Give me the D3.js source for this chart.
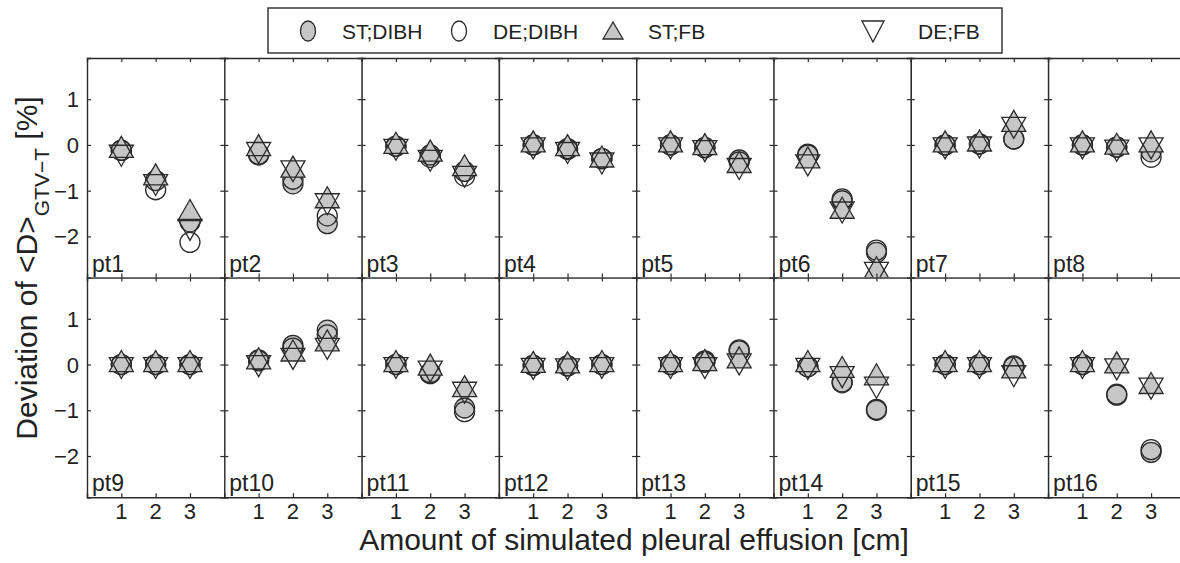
<!DOCTYPE html>
<html>
<head>
<meta charset="utf-8">
<script src="https://cdn.jsdelivr.net/npm/d3@7/dist/d3.min.js"></script>
<style>
  body { margin: 0; background: #fff; }
  text { font-family: "Liberation Sans", Arial, sans-serif; fill: #222; }
</style>
</head>
<body>
<div id="chart"></div>
<script>
//Data
var patients = ["pt1","pt2","pt3","pt4","pt5","pt6","pt7","pt8",
                "pt9","pt10","pt11","pt12","pt13","pt14","pt15","pt16"];
var effusion = [1, 2, 3];
var yTicks = [-2, -1, 0, 1];
var seriesNames = ["ST;DIBH", "DE;DIBH", "ST;FB", "DE;FB"];

var stDibh = [
    [-0.12, -0.78, -1.68], [-0.22, -0.85, -1.72], [-0.03, -0.22, -0.58], [0, -0.08, -0.30],
    [0, -0.06, -0.37], [-0.22, -1.22, -2.35], [0, 0.02, 0.13], [0, -0.05, -0.15],
    [0, 0, 0], [0.08, 0.42, 0.75], [0, -0.20, -0.95], [-0.02, -0.03, 0],
    [0, 0.08, 0.30], [-0.05, -0.40, -0.98], [0, 0, -0.05], [0, -0.67, -1.92]
];
var deDibh = [
    [-0.12, -0.98, -2.13], [-0.20, -0.75, -1.55], [-0.03, -0.27, -0.68], [0, -0.10, -0.30],
    [0, -0.06, -0.33], [-0.20, -1.18, -2.30], [0, 0.02, 0.13], [0, -0.05, -0.27],
    [0, 0, 0], [0.10, 0.36, 0.65], [0, -0.18, -1.03], [-0.02, -0.03, 0],
    [0, 0.05, 0.32], [-0.05, -0.38, -1.00], [0, 0, -0.03], [0, -0.65, -1.86]
];
var stFb = [
    [-0.12, -0.72, -1.50], [-0.08, -0.55, -1.22], [-0.03, -0.20, -0.52], [0, -0.08, -0.33],
    [0, -0.06, -0.45], [-0.35, -1.45, -2.75], [0, 0.02, 0.45], [0, -0.05, 0],
    [0, 0, 0], [0.06, 0.23, 0.45], [0, -0.08, -0.55], [-0.02, -0.03, 0],
    [0, 0.02, 0.08], [0, -0.13, -0.29], [0, 0, -0.14], [0, -0.03, -0.48]
];
var deFb = [
    [-0.16, -0.80, -1.78], [-0.10, -0.50, -1.22], [-0.03, -0.27, -0.62], [0, -0.10, -0.33],
    [0, -0.06, -0.45], [-0.37, -1.40, -2.72], [0, 0.02, 0.45], [0, -0.05, 0],
    [0, 0, 0], [0.04, 0.20, 0.42], [0, -0.08, -0.54], [-0.02, -0.03, 0],
    [0, 0, 0.08], [-0.02, -0.20, -0.43], [0, 0, -0.18], [0, -0.03, -0.45]
];

//Chart space
var svgWidth = 1180;
var svgHeight = 563;
var margin = { top: 58, left: 87 };
var panelW = 137.3;
var panelH = 219.6;
var nCols = 8;

var gray = "#c6c6c6";
var ink = "#2b2b2b";

var svg = d3.select("#chart")
    .append("svg")
    .attr("width", svgWidth)
    .attr("height", svgHeight);

//Scales shared by every panel
var xScale = d3.scaleLinear().domain([0, 4]).range([0, panelW]);
var yScale = d3.scaleLinear().domain([-2.9, 1.9]).range([panelH, 0]);

//Marker shapes (triangles centred on their centroid)
var triH = 21, triW = 24;
function triUp() {
    return `M0,${-2 * triH / 3}L${triW / 2},${triH / 3}L${-triW / 2},${triH / 3}Z`;
}
function triDown() {
    return `M0,${2 * triH / 3}L${triW / 2},${-triH / 3}L${-triW / 2},${-triH / 3}Z`;
}

var defs = svg.append("defs");

patients.forEach(function(name, i) {
    var col = i % nCols, row = Math.floor(i / nCols);
    var px = margin.left + col * panelW;
    var py = margin.top + row * panelH;

    defs.append("clipPath").attr("id", "clip" + i)
        .append("rect").attr("width", panelW).attr("height", panelH);

    var g = svg.append("g")
        .attr("transform", `translate(${px}, ${py})`);

    g.append("rect")
        .attr("width", panelW).attr("height", panelH)
        .attr("fill", "#fff");

    var marks = g.append("g").attr("clip-path", `url(#clip${i})`);

    //Circles: filled then open
    [stDibh, deDibh].forEach(function(series, s) {
        marks.selectAll(null)
            .data(effusion).enter()
            .append("circle")
            .attr("cx", d => xScale(d))
            .attr("cy", (d, k) => yScale(series[i][k]))
            .attr("r", 10)
            .attr("fill", s === 0 ? gray : "none")
            .attr("stroke", ink)
            .attr("stroke-width", 1.3);
    });

    //Triangles: filled up then open down
    [stFb, deFb].forEach(function(series, s) {
        marks.selectAll(null)
            .data(effusion).enter()
            .append("path")
            .attr("d", s === 0 ? triUp() : triDown())
            .attr("transform", (d, k) => `translate(${xScale(d)}, ${yScale(series[i][k])})`)
            .attr("fill", s === 0 ? gray : "none")
            .attr("stroke", ink)
            .attr("stroke-width", 1.3)
            .attr("stroke-linejoin", "miter");
    });

    //Axes with inward ticks on all sides
    var axes = [
        d3.axisBottom(xScale).tickValues(effusion).tickSize(-4).tickFormat(""),
        d3.axisTop(xScale).tickValues(effusion).tickSize(-4).tickFormat(""),
        d3.axisLeft(yScale).tickValues(yTicks).tickSize(-4).tickFormat(""),
        d3.axisRight(yScale).tickValues(yTicks).tickSize(-4).tickFormat("")
    ];
    var shifts = [`translate(0,${panelH})`, "translate(0,0)", "translate(0,0)", `translate(${panelW},0)`];
    axes.forEach(function(ax, a) {
        var ag = g.append("g").attr("transform", shifts[a]).call(ax);
        ag.selectAll("path").attr("stroke", ink).attr("stroke-width", 1.4);
        ag.selectAll("line").attr("stroke", ink).attr("stroke-width", 1.2);
    });

    //Panel label
    g.append("text")
        .attr("x", 5)
        .attr("y", panelH - 6)
        .attr("font-size", 23)
        .text(name);

    //Tick labels
    if (col === 0) {
        g.selectAll(null)
            .data(yTicks).enter()
            .append("text")
            .attr("x", -8)
            .attr("y", d => yScale(d) + 8)
            .attr("text-anchor", "end")
            .attr("font-size", 22)
            .text(d => d < 0 ? "\u2212" + Math.abs(d) : d);
    }
    if (row === 1) {
        g.selectAll(null)
            .data(effusion).enter()
            .append("text")
            .attr("x", d => xScale(d))
            .attr("y", panelH + 22)
            .attr("text-anchor", "middle")
            .attr("font-size", 22)
            .text(d => d);
    }
});

//Axis labels
svg.append("text")
    .attr("x", 634)
    .attr("y", 550)
    .attr("text-anchor", "middle")
    .attr("font-size", 30)
    .text("Amount of simulated pleural effusion [cm]");

var yLab = svg.append("text")
    .attr("transform", "translate(37, 268) rotate(-90)")
    .attr("text-anchor", "middle")
    .attr("font-size", 30);
yLab.append("tspan").text("Deviation of <D>");
yLab.append("tspan").attr("dy", 12).attr("font-size", 21).text("GTV\u2212T");
yLab.append("tspan").attr("dy", -12).text(" [%]");

//Legend
var legend = svg.append("g");
legend.append("rect")
    .attr("x", 268).attr("y", 8)
    .attr("width", 734).attr("height", 45)
    .attr("fill", "#fff")
    .attr("stroke", ink)
    .attr("stroke-width", 1.4);

var legMarkX = [308, 459, 613, 873];
var legTextX = [342, 493, 648, 918];
var legY = 31;

legend.append("ellipse")
    .attr("cx", legMarkX[0]).attr("cy", legY).attr("rx", 7.5).attr("ry", 10)
    .attr("fill", gray).attr("stroke", ink).attr("stroke-width", 1.3);
legend.append("ellipse")
    .attr("cx", legMarkX[1]).attr("cy", legY).attr("rx", 7.5).attr("ry", 10)
    .attr("fill", "none").attr("stroke", ink).attr("stroke-width", 1.3);
legend.append("path")
    .attr("d", "M0,-9L10,8L-10,8Z")
    .attr("transform", `translate(${legMarkX[2]}, ${legY})`)
    .attr("fill", gray).attr("stroke", ink).attr("stroke-width", 1.3);
legend.append("path")
    .attr("d", "M0,11L11,-10L-11,-10Z")
    .attr("transform", `translate(${legMarkX[3]}, ${legY})`)
    .attr("fill", "none").attr("stroke", ink).attr("stroke-width", 1.3);

legend.selectAll(null)
    .data(seriesNames).enter()
    .append("text")
    .attr("x", (d, k) => legTextX[k])
    .attr("y", 38.5)
    .attr("font-size", 21)
    .text(d => d);
</script>
</body>
</html>
